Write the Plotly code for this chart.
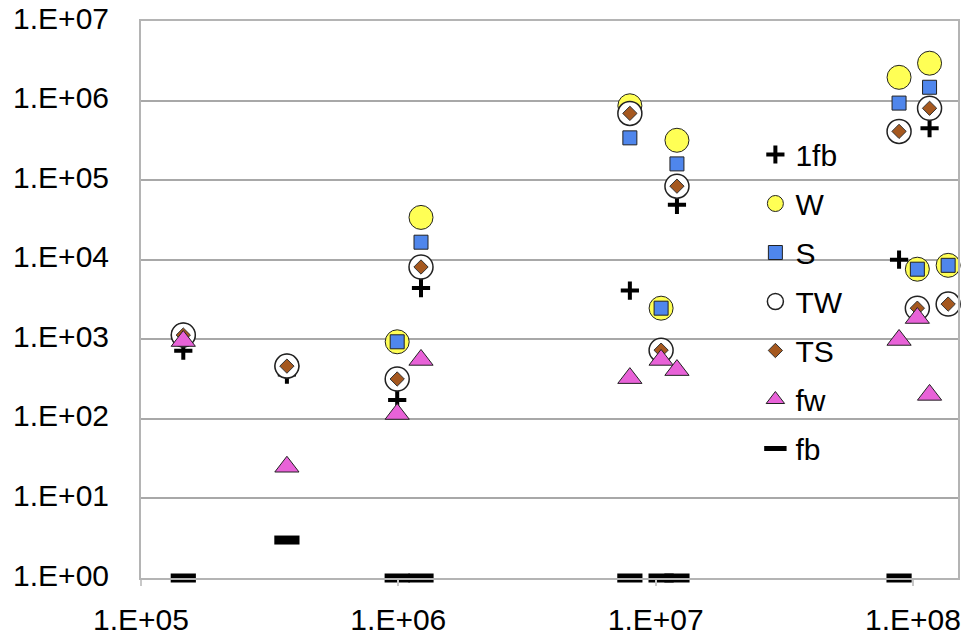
import plotly.graph_objects as go

# ---- data ----
x_vals = [1.46e5, 3.69e5, 9.9e5, 1.225e6, 7.94e6, 1.05e7, 1.21e7, 8.83e7, 1.04e8, 1.16e8, 1.37e8]
one_fb = [720, 360, 172, 4400, 4100, None, 4.9e4, 1.0e4, None, 4.5e5, None]
w_vals = [1130, 460, 930, 3.4e4, 8.6e5, 2460, 3.17e5, 1.96e6, 7.6e3, 2.95e6, 8.5e3]
s_vals = [1130, 460, 930, 1.66e4, 3.4e5, 2460, 1.6e5, 9.3e5, 7.6e3, 1.47e6, 8.5e3]
tw_vals = [1130, 460, 317, 8.1e3, 6.9e5, 730, 8.4e4, 4.1e5, 2.46e3, 8.0e5, 2.77e3]
ts_vals = [1130, 460, 317, 8.1e3, 6.9e5, 730, 8.4e4, 4.1e5, 2.46e3, 8.0e5, 2.77e3]
fw_vals = [950, 25, 115, 550, 325, 550, 410, 980, 1850, 200, None]
fb_vals = [1, 3, 1, 1, 1, 1, 1, 1, None, None, None]

x_tickvals = [1e5, 1e6, 1e7, 1e8]
x_ticktext = ["1.E+05", "1.E+06", "1.E+07", "1.E+08"]
y_tickvals = [1, 10, 100, 1e3, 1e4, 1e5, 1e6, 1e7]
y_ticktext = ["1.E+00", "1.E+01", "1.E+02", "1.E+03", "1.E+04", "1.E+05", "1.E+06", "1.E+07"]

series = [
    ("1fb", one_fb, dict(symbol="cross-thin", size=13, color="black",
                         line=dict(color="black", width=4))),
    ("W", w_vals, dict(symbol="circle", size=24, color="#FFFF55",
                       line=dict(color="#222222", width=1))),
    ("S", s_vals, dict(symbol="square", size=14, color="#4F86EC",
                       line=dict(color="#222222", width=1))),
    ("TW", tw_vals, dict(symbol="circle", size=24, color="white",
                         line=dict(color="#222222", width=1.5))),
    ("TS", ts_vals, dict(symbol="diamond", size=11, color="#A5581F",
                         line=dict(color="#333333", width=1))),
    ("fw", fw_vals, dict(symbol="triangle-up", size=21, color="#E862D8",
                         line=dict(color="#222222", width=1))),
    ("fb", fb_vals, dict(symbol="line-ew", size=18, color="black",
                         line=dict(color="black", width=9))),
]

fig = go.Figure()
for name, vals, marker in series:
    fig.add_trace(go.Scatter(
        x=x_vals, y=vals, mode="markers", name=name, marker=marker,
        legendgroup=name, cliponaxis=False,
    ))

font = "Liberation Sans, Arial, sans-serif"
fig.update_layout(
    width=967, height=636,
    margin=dict(l=141, r=9, t=21, b=58, autoexpand=False),
    paper_bgcolor="white", plot_bgcolor="white",
    font=dict(family=font, size=30, color="black"),
    showlegend=True,
    legend=dict(
        x=0.752, y=0.807, xanchor="left", yanchor="top",
        bgcolor="rgba(0,0,0,0)", borderwidth=0,
        font=dict(family=font, size=30, color="black"),
        tracegroupgap=7, itemwidth=30,
    ),
    xaxis=dict(
        type="log", range=[5, 8.175], automargin=False,
        tickvals=x_tickvals, ticktext=x_ticktext,
        showgrid=False, zeroline=False,
        showline=True, linecolor="#B4B4B4", linewidth=2, mirror=True,
        ticks="outside", ticklen=6, tickcolor="#C8C8C8", tickwidth=2,
        ticklabelstandoff=8, ticklabeloverflow="allow",
        tickfont=dict(family=font, size=30, color="black"),
    ),
    yaxis=dict(
        type="log", range=[0, 7], automargin=False,
        tickvals=y_tickvals, ticktext=y_ticktext,
        showgrid=True, gridcolor="#A8A8A8", gridwidth=2,
        zeroline=False,
        showline=True, linecolor="#B4B4B4", linewidth=2, mirror=True,
        ticks="", ticklabelstandoff=24, ticklabelshift=-3,
        ticklabeloverflow="allow",
        tickfont=dict(family=font, size=30, color="black"),
    ),
    shapes=[dict(
        type="rect", xref="paper", yref="paper", layer="between",
        x0=(735 - 141) / 817, x1=(873 - 141) / 817,
        y0=(578 - 472) / 557, y1=(578 - 135) / 557,
        fillcolor="white", line=dict(width=0),
    )],
)

fig.write_html(
    "out.html",
    config={"displayModeBar": False},
    post_script="document.body.style.margin='0';document.body.style.overflow='hidden';",
)
